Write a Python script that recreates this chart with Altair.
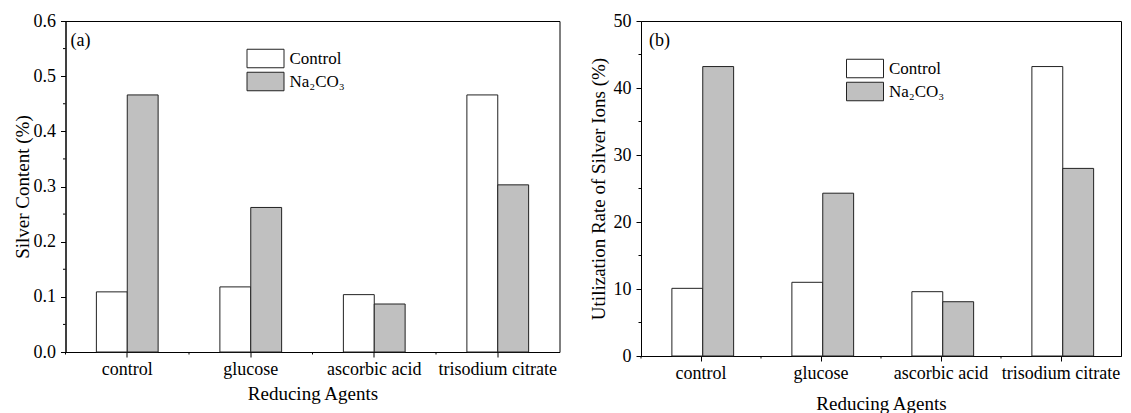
import altair as alt
import pandas as pd

categories = ["control", "glucose", "ascorbic acid", "trisodium citrate"]
series = ["Control", "Na₂CO₃"]

a_control = [0.109, 0.118, 0.104, 0.466]
a_na2co3 = [0.466, 0.262, 0.087, 0.303]

b_control = [10.1, 11.0, 9.6, 43.2]
b_na2co3 = [43.2, 24.3, 8.1, 28.0]

a_ticks = [0.0, 0.1, 0.2, 0.3, 0.4, 0.5, 0.6]
a_minor = [0.05, 0.15, 0.25, 0.35, 0.45, 0.55]
b_ticks = [0, 10, 20, 30, 40, 50]
b_minor = [5, 15, 25, 35, 45]

FONT = "Liberation Serif"


def make_df(ctrl, na):
    rows = []
    for c, v1, v2 in zip(categories, ctrl, na):
        rows.append({"agent": c, "series": series[0], "value": v1})
        rows.append({"agent": c, "series": series[1], "value": v2})
    return pd.DataFrame(rows)


def panel(df, ymax, yticks, yminor, yfmt, ytitle, tag, tagx, width, height,
          lx, ly, title_pad, title_label_pad, bar_pad):
    xaxis = alt.Axis(title="Reducing Agents", labelAngle=0, tickSize=5,
                     labelPadding=3, titlePadding=title_pad, orient="bottom")
    yaxis = alt.Axis(values=yticks, format=yfmt, title=ytitle, tickSize=5,
                     labelPadding=5, titlePadding=title_label_pad, orient="left")
    xscale = alt.Scale(paddingInner=0, paddingOuter=0)
    yscale = alt.Scale(domain=[0, ymax], nice=False, zero=True)

    bars = alt.Chart(df).mark_bar(stroke="#222222", strokeWidth=1).encode(
        x=alt.X("agent:N", sort=categories, scale=xscale, axis=xaxis),
        xOffset=alt.XOffset("series:N", sort=series,
                            scale=alt.Scale(paddingInner=0, paddingOuter=bar_pad)),
        y=alt.Y("value:Q", scale=yscale, axis=yaxis),
        fill=alt.Fill("series:N", sort=series,
                      scale=alt.Scale(domain=series, range=["#ffffff", "#c0c0c0"]),
                      legend=alt.Legend(title=None, orient="none", legendX=lx + 8.5, legendY=ly,
                                        symbolType="M-1.85,-0.925H1.85V0.925H-1.85Z",
                                        symbolSize=400,
                                        symbolStrokeColor="#222222", symbolStrokeWidth=1,
                                        labelFont=FONT, labelFontSize=17, labelColor="#000000",
                                        labelOffset=13.5, rowPadding=0, padding=0)),
    )

    ymin_df = pd.DataFrame({"value": yminor})
    yminor_rules = alt.Chart(ymin_df).mark_rule(color="#000000", strokeWidth=1).encode(
        y=alt.Y("value:Q", scale=yscale, axis=yaxis),
        x=alt.value(-2.5), x2=alt.value(0))

    xmin_df = pd.DataFrame({"agent": categories})
    xminor_rules = alt.Chart(xmin_df).mark_rule(color="#000000", strokeWidth=1).encode(
        x=alt.X("agent:N", sort=categories, scale=xscale, axis=xaxis, bandPosition=0),
        y=alt.value(height), y2=alt.value(height + 2.5))

    tagdf = pd.DataFrame({"t": [tag]})
    label = alt.Chart(tagdf).mark_text(align="left", baseline="middle", font=FONT,
                                       fontSize=18, color="#000000").encode(
        x=alt.value(tagx), y=alt.value(20), text="t:N")
    return alt.layer(bars, yminor_rules, xminor_rules, label).properties(width=width, height=height)


pa = panel(make_df(a_control, a_na2co3), 0.6, a_ticks, a_minor, ".1f",
           "Silver Content (%)", "(a)", 5, 494, 331, 181, 27, 6, 1, 1.0)
pb = panel(make_df(b_control, b_na2co3), 50, b_ticks, b_minor, "d",
           "Utilization Rate of Silver Ions (%)", "(b)", 8, 480, 335, 205, 37, 12, 5, 0.95)

chart = alt.hconcat(pa, pb, spacing=27.5).resolve_scale(fill="independent").properties(
    padding={"left": 4.5, "top": 3, "right": 0, "bottom": 0}
).configure_view(stroke="#000000", strokeWidth=1).configure_axis(
    labelFont=FONT, titleFont=FONT, labelFontSize=18, titleFontSize=19,
    titleFontWeight="normal", labelColor="#000000", titleColor="#000000",
    domainColor="#000000", tickColor="#000000", grid=False
)

chart.save("out.html", embed_options={"renderer": "svg", "actions": False})
